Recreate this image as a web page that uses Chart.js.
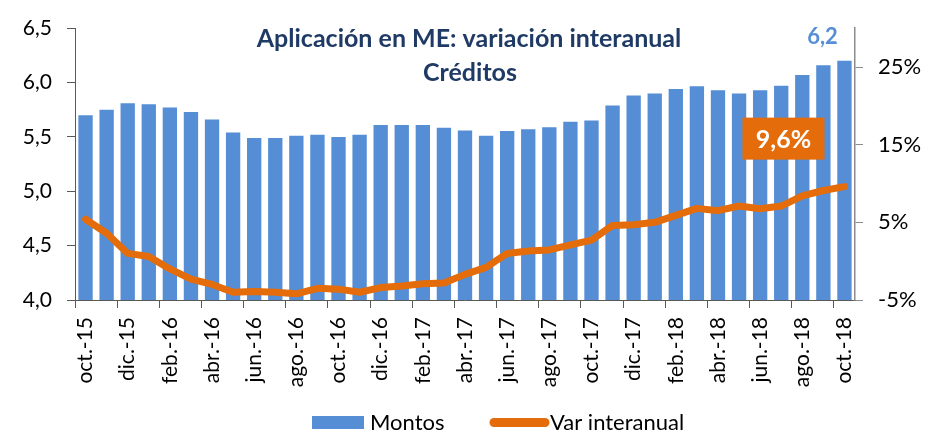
<!DOCTYPE html>
<html>
<head>
<meta charset="utf-8">
<script src="https://cdn.jsdelivr.net/npm/chart.js@4.4.1/dist/chart.umd.min.js"></script>
<style>
  html, body { margin: 0; padding: 0; background: #fff; }
  #wrap { width: 929px; height: 435px; position: relative; }
</style>
</head>
<body>
<div id="wrap"><canvas id="chart" width="929" height="435"></canvas></div>
<script>
const months = [
  "oct.-15", "nov.-15", "dic.-15", "ene.-16", "feb.-16", "mar.-16", "abr.-16", "may.-16", "jun.-16",
  "jul.-16", "ago.-16", "sep.-16", "oct.-16", "nov.-16", "dic.-16", "ene.-17", "feb.-17", "mar.-17",
  "abr.-17", "may.-17", "jun.-17", "jul.-17", "ago.-17", "sep.-17", "oct.-17", "nov.-17", "dic.-17",
  "ene.-18", "feb.-18", "mar.-18", "abr.-18", "may.-18", "jun.-18", "jul.-18", "ago.-18", "sep.-18", "oct.-18"
]

// montos (miles de millones)
const montos = [
  5.70, 5.75, 5.81, 5.80, 5.77, 5.73, 5.66, 5.54, 5.49,
  5.49, 5.51, 5.52, 5.50, 5.52, 5.61, 5.61, 5.61, 5.585,
  5.56, 5.51, 5.555, 5.57, 5.59, 5.64, 5.65, 5.79, 5.88,
  5.90, 5.94, 5.965, 5.93, 5.90, 5.93, 5.97, 6.07, 6.16, 6.20
]

// variación interanual (%)
const varInteranual = [
  5.4, 3.6, 1.0, 0.6, -1.0, -2.3, -3.0, -4.0, -3.9,
  -4.0, -4.2, -3.5, -3.6, -4.0, -3.4, -3.2, -2.9, -2.8,
  -1.7, -0.8, 1.0, 1.3, 1.45, 2.1, 2.7, 4.6, 4.7,
  5.0, 5.9, 6.8, 6.5, 7.1, 6.75, 7.1, 8.4, 9.1, 9.6
]

const rightTicks = [-5, 5, 15, 25]

const BLUE = "#558ed5"
const ORANGE = "#e46c0a"
const NAVY = "#1f3a64"
const FONT = "Lato, 'Open Sans', sans-serif"

const extras = {
  id: "extras",
  afterDraw(chart) {
    const { ctx, scales } = chart
    const x = scales.x, yl = scales.y, yr = scales.y1
    const last = months.length - 1
    ctx.save()

    // título
    ctx.fillStyle = NAVY
    ctx.font = "bold 25px " + FONT
    ctx.textAlign = "center"
    ctx.textBaseline = "alphabetic"
    ctx.fillText("Aplicación en ME: variación interanual", 469, 47)
    ctx.fillText("Créditos", 470, 81)

    // etiqueta último monto
    ctx.fillStyle = BLUE
    ctx.font = "bold 22px " + FONT
    ctx.fillText(montos[last].toFixed(1).replace(".", ","), x.getPixelForValue(last) - 22, yl.getPixelForValue(montos[last]) - 17)

    // etiqueta última variación
    const cx = x.getPixelForValue(last) - 61
    const cy = yr.getPixelForValue(varInteranual[last]) - 48
    ctx.fillStyle = ORANGE
    ctx.fillRect(cx - 41, cy - 21, 82, 42)
    ctx.fillStyle = "#fff"
    ctx.font = "bold 25px " + FONT
    ctx.textBaseline = "middle"
    ctx.fillText(varInteranual[last].toFixed(1).replace(".", ",") + "%", cx, cy + 1)

    // leyenda
    ctx.textAlign = "left"
    ctx.font = "22px " + FONT
    ctx.fillStyle = BLUE
    ctx.fillRect(312, 416, 52, 13)
    ctx.fillStyle = "#000"
    ctx.fillText("Montos", 370, 423)
    ctx.strokeStyle = ORANGE
    ctx.lineWidth = 9
    ctx.lineCap = "round"
    ctx.beginPath()
    ctx.moveTo(494, 422.5)
    ctx.lineTo(545, 422.5)
    ctx.stroke()
    ctx.fillText("Var interanual", 550, 423)

    ctx.restore()
  }
}

new Chart(document.getElementById("chart"), {
  type: "bar",
  data: {
    labels: months,
    datasets: [
      {
        label: "Var interanual",
        type: "line",
        data: varInteranual,
        yAxisID: "y1",
        borderColor: ORANGE,
        borderWidth: 7,
        borderJoinStyle: "round",
        borderCapStyle: "round",
        pointRadius: 0,
        tension: 0,
        order: 0
      },
      {
        label: "Montos",
        data: montos,
        yAxisID: "y",
        backgroundColor: BLUE,
        categoryPercentage: 1,
        barPercentage: 0.68,
        order: 1
      }
    ]
  },
  options: {
    responsive: false,
    animation: false,
    layout: { padding: { top: 15, left: 0, right: 0, bottom: 0 } },
    plugins: { legend: { display: false }, tooltip: { enabled: false } },
    scales: {
      x: {
        afterFit(scale) { scale.height = 135 },
        border: { color: "#595959", width: 1 },
        grid: {
          drawOnChartArea: false,
          tickLength: 8,
          tickColor: (c) => (c.index % 2 === 0 ? "#595959" : "transparent")
        },
        ticks: {
          autoSkip: false,
          maxRotation: 90,
          minRotation: 90,
          padding: 9,
          color: "#000",
          font: { family: FONT, size: 21 },
          callback: (v, i) => (i % 2 === 0 ? months[i] : "")
        }
      },
      y: {
        position: "left",
        min: 4,
        max: 6.5,
        afterFit(scale) { scale.width = 75 },
        border: { color: "#595959", width: 1 },
        grid: { drawOnChartArea: false, tickLength: 8, tickColor: "#595959" },
        ticks: {
          stepSize: 0.5,
          padding: 15,
          color: "#000",
          font: { family: FONT, size: 21 },
          callback: (v) => v.toFixed(1).replace(".", ",")
        }
      },
      y1: {
        position: "right",
        min: -5,
        max: 30,
        afterFit(scale) { scale.width = 74 },
        afterBuildTicks(scale) { scale.ticks = rightTicks.map((v) => ({ value: v })) },
        border: { color: "#8c8c8c", width: 1.5 },
        grid: { drawOnChartArea: false, tickLength: 8, tickColor: "#8c8c8c" },
        ticks: {
          padding: 15,
          color: "#000",
          font: { family: FONT, size: 22 },
          callback: (v) => v + "%"
        }
      }
    }
  },
  plugins: [extras]
})
</script>
</body>
</html>
